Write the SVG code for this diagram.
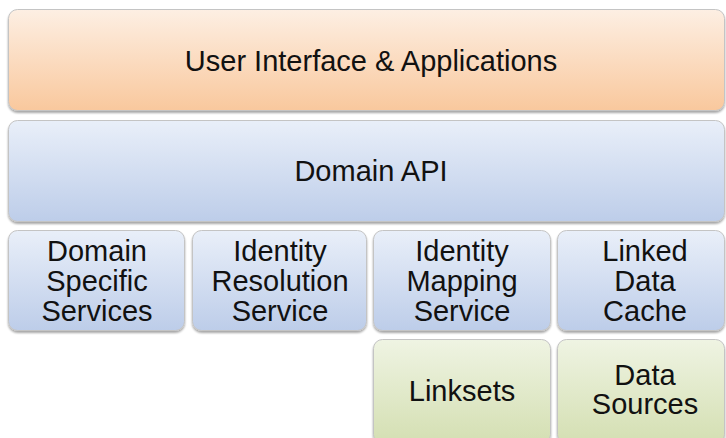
<svg xmlns="http://www.w3.org/2000/svg" width="726" height="438" viewBox="0 0 726 438">
  <defs>
    <linearGradient id="gOrange" x1="0" y1="0" x2="0" y2="1">
      <stop offset="0" stop-color="#fdefe3"/>
      <stop offset="1" stop-color="#f9c89d"/>
    </linearGradient>
    <linearGradient id="gBlue" x1="0" y1="0" x2="0" y2="1">
      <stop offset="0" stop-color="#e9eff9"/>
      <stop offset="1" stop-color="#bdcde9"/>
    </linearGradient>
    <linearGradient id="gGreen" x1="0" y1="0" x2="0" y2="1">
      <stop offset="0" stop-color="#eff4e3"/>
      <stop offset="1" stop-color="#d4dfb2"/>
    </linearGradient>
    <filter id="shadow" x="-5%" y="-5%" width="110%" height="115%">
      <feGaussianBlur in="SourceAlpha" stdDeviation="1"/>
      <feOffset dx="0" dy="1.5" result="b"/>
      <feComponentTransfer><feFuncA type="linear" slope="0.35"/></feComponentTransfer>
      <feMerge><feMergeNode/><feMergeNode in="SourceGraphic"/></feMerge>
    </filter>
  </defs>
  <style>
    .box { stroke: #c4c4c4; stroke-width: 1; filter: url(#shadow); }
    .o { fill: url(#gOrange); }
    .b { fill: url(#gBlue); }
    .g { fill: url(#gGreen); }
    text { font-family: "Liberation Sans", Arial, sans-serif; font-size: 29px; fill: #111111; text-anchor: middle; }
  </style>
  <rect width="726" height="438" fill="#ffffff"/>

  <g id="ui">
    <rect class="box o" x="8.5" y="9.5" width="716" height="101" rx="9"/>
    <text x="371" y="71">User Interface &amp; Applications</text>
  </g>
  <g id="domain-api">
    <rect class="box b" x="8.5" y="120.5" width="716" height="101" rx="9"/>
    <text x="371" y="181">Domain API</text>
  </g>
  <g id="domain-specific-services">
    <rect class="box b" x="8.5" y="230.5" width="176" height="100" rx="9"/>
    <text x="97" y="260.5">Domain</text>
    <text x="97" y="290.5">Specific</text>
    <text x="97" y="320.5">Services</text>
  </g>
  <g id="identity-resolution-service">
    <rect class="box b" x="192.5" y="230.5" width="174" height="100" rx="9"/>
    <text x="280" y="260.5">Identity</text>
    <text x="280" y="290.5">Resolution</text>
    <text x="280" y="320.5">Service</text>
  </g>
  <g id="identity-mapping-service">
    <rect class="box b" x="373.5" y="230.5" width="177" height="100" rx="9"/>
    <text x="462" y="260.5">Identity</text>
    <text x="462" y="290.5">Mapping</text>
    <text x="462" y="320.5">Service</text>
  </g>
  <g id="linked-data-cache">
    <rect class="box b" x="557.5" y="230.5" width="167" height="100" rx="9"/>
    <text x="645" y="260.5">Linked</text>
    <text x="645" y="290.5">Data</text>
    <text x="645" y="320.5">Cache</text>
  </g>
  <g id="linksets">
    <rect class="box g" x="373.5" y="339.5" width="177" height="104" rx="9"/>
    <text x="462" y="400.5">Linksets</text>
  </g>
  <g id="data-sources">
    <rect class="box g" x="557.5" y="339.5" width="167" height="104" rx="9"/>
    <text x="645" y="384.5">Data</text>
    <text x="645" y="414">Sources</text>
  </g>
  <g id="connectors"/>
</svg>
